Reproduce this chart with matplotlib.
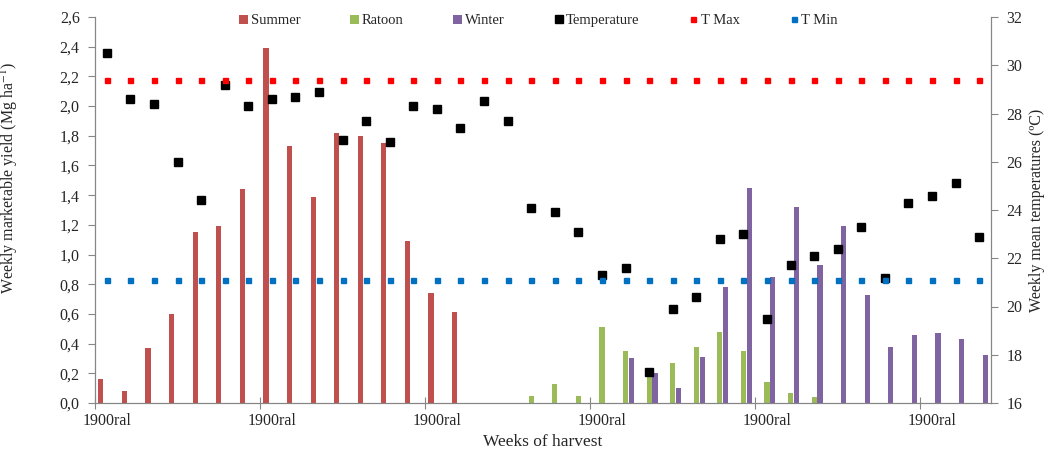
import numpy as np
import matplotlib
matplotlib.use("Agg")
import matplotlib.pyplot as plt
from matplotlib.ticker import FuncFormatter, FixedLocator

plt.rcParams["font.family"] = ["Liberation Serif", "DejaVu Serif"]
plt.rcParams["mathtext.fontset"] = "stix"

# weekly yields (Mg/ha), 38 harvest weeks
summer = [0.16, 0.08, 0.37, 0.60, 1.15, 1.19, 1.44, 2.39, 1.73, 1.39,
          1.82, 1.80, 1.75, 1.09, 0.74, 0.61, 0, 0, 0, 0,
          0, 0, 0, 0, 0, 0, 0, 0, 0, 0,
          0, 0, 0, 0, 0, 0, 0, 0]
ratoon = [0, 0, 0, 0, 0, 0, 0, 0, 0, 0,
          0, 0, 0, 0, 0, 0, 0, 0, 0.05, 0.13,
          0.05, 0.51, 0.35, 0.19, 0.27, 0.38, 0.48, 0.35, 0.14, 0.07,
          0.04, 0, 0, 0, 0, 0, 0, 0]
winter = [0, 0, 0, 0, 0, 0, 0, 0, 0, 0,
          0, 0, 0, 0, 0, 0, 0, 0, 0, 0,
          0, 0, 0.30, 0.20, 0.10, 0.31, 0.78, 1.45, 0.85, 1.32,
          0.93, 1.19, 0.73, 0.38, 0.46, 0.47, 0.43, 0.32]
# weekly mean temperature (ºC)
temperature = [30.5, 28.6, 28.4, 26.0, 24.4, 29.2, 28.3, 28.6, 28.7, 28.9,
               26.9, 27.7, 26.8, 28.3, 28.2, 27.4, 28.5, 27.7, 24.1, 23.9,
               23.1, 21.3, 21.6, 17.3, 19.9, 20.4, 22.8, 23.0, 19.5, 21.7,
               22.1, 22.4, 23.3, 21.2, 24.3, 24.6, 25.1, 22.9]
t_max = 29.4
t_min = 21.1
week_label = "1900ral"

n = len(summer)
x = np.arange(n) + 0.5

fig = plt.figure(figsize=(10.48, 4.59), dpi=100)
ax = fig.add_axes([95 / 1048, 56 / 459, 896 / 1048, 386 / 459])
ax2 = ax.twinx()

w = 0.22
off = 0.25
b1 = ax.bar(x - off, summer, w, color="#C0504D", label="Summer")
b2 = ax.bar(x, ratoon, w, color="#9BBB59", label="Ratoon")
b3 = ax.bar(x + off, winter, w, color="#8064A2", label="Winter")

l1, = ax2.plot(x, temperature, "s", color="black", ms=5.4, ls="none", label="Temperature")
l2, = ax2.plot(x, [t_max] * n, "s", color="#FF0000", ms=3.6, ls="none", label="T Max")
l3, = ax2.plot(x, [t_min] * n, "s", color="#0070C0", ms=3.6, ls="none", label="T Min")

ax.set_xlim(0, n)
ax.set_ylim(0, 2.6)
ax2.set_ylim(16, 32)
ax.set_yticks(np.arange(0, 2.61, 0.2))
ax2.set_yticks(np.arange(16, 33, 2))
ax.yaxis.set_major_formatter(FuncFormatter(lambda v, p: f"{v:.1f}".replace(".", ",")))

# tick marks between groups of 7 weeks, labels on the first week of each group
ax.xaxis.set_major_locator(FixedLocator(np.arange(0, n, 7)))
ax.xaxis.set_minor_locator(FixedLocator(np.arange(0, n, 7) + 0.5))
ax.xaxis.set_major_formatter(FuncFormatter(lambda v, p: ""))
ax.xaxis.set_minor_formatter(FuncFormatter(lambda v, p: week_label))

grey = "#868686"
txt = "#262626"
for a in (ax, ax2):
    a.spines["top"].set_visible(False)
    for s in ("left", "right", "bottom"):
        a.spines[s].set_color(grey)
ax.tick_params(axis="x", which="major", direction="inout", length=8, color=grey)
ax.tick_params(axis="x", which="minor", length=0, pad=7, labelsize=11.5, labelcolor=txt)
ax.tick_params(axis="y", direction="out", length=5, color=grey, pad=6,
               labelsize=11.5, labelcolor=txt)
ax2.tick_params(axis="y", direction="out", length=5, color=grey, pad=6,
                labelsize=11.5, labelcolor=txt)

ax.set_xlabel("Weeks of harvest", fontsize=12.5, color=txt, labelpad=4)
ax.set_ylabel("Weekly marketable yield (Mg ha$^{-1}$)", fontsize=11.5, color=txt)
ax.yaxis.set_label_coords(-0.084, 0.583)
ax2.set_ylabel("Weekly mean temperatures (ºC)", fontsize=11.5, color=txt)
ax2.yaxis.set_label_coords(1.042, 0.5)

handles = [b1, b2, b3, l1, l2, l3]
ax2.legend(handles, [h.get_label() for h in handles], loc="center",
           bbox_to_anchor=(0.495, 0.99), ncol=6, frameon=False, fontsize=10.5,
           handlelength=0.6, handleheight=0.6, handletextpad=0.2,
           columnspacing=3.4, labelcolor=txt)

fig.savefig("out.png", dpi=100)
